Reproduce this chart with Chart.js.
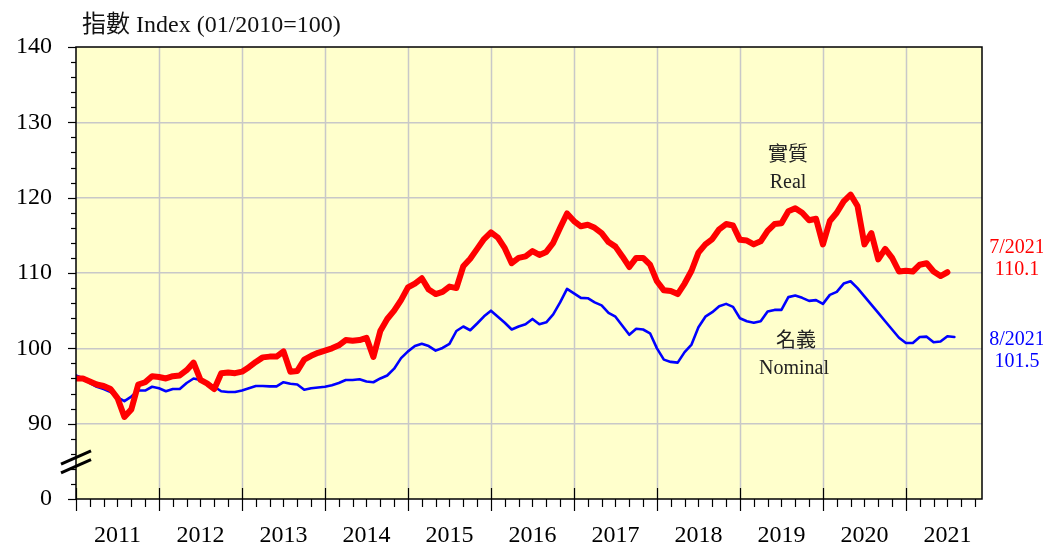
<!DOCTYPE html>
<html>
<head>
<meta charset="utf-8">
<title>Index chart</title>
<script src="https://cdn.jsdelivr.net/npm/chart.js@4.4.0/dist/chart.umd.min.js"></script>
<style>
  html, body { margin: 0; padding: 0; background: #ffffff; }
  #wrap { width: 1043px; height: 546px; position: relative; }
</style>
</head>
<body>
<div id="wrap"><canvas id="indexChart"></canvas></div>
<script>
// Datos (mensuales, desde 01/2011)
const years = ["2011", "2012", "2013", "2014", "2015", "2016", "2017", "2018", "2019", "2020", "2021"]

// 實質 Real, 01/2011 - 07/2021
const realIndex = [
  96.0, 96.0, 95.6, 95.2, 95.0, 94.6, 93.4, 90.9, 91.9, 95.2, 95.5, 96.3,
  96.2, 96.0, 96.3, 96.4, 97.1, 98.1, 95.8, 95.3, 94.6, 96.7, 96.8, 96.7,
  96.9, 97.5, 98.2, 98.8, 98.9, 98.9, 99.6, 96.9, 97.0, 98.5, 99.0, 99.4,
  99.7, 100.0, 100.4, 101.1, 101.0, 101.1, 101.4, 98.85, 102.3, 103.9, 105.0, 106.4,
  108.1, 108.6, 109.3, 107.8, 107.2, 107.5, 108.2, 108.0, 110.9, 111.9, 113.2, 114.5,
  115.4, 114.7, 113.3, 111.3, 112.0, 112.2, 112.9, 112.4, 112.8, 114.0, 116.0, 117.9,
  116.9, 116.2, 116.4, 116.0, 115.3, 114.1, 113.5, 112.2, 110.8, 112.0, 112.0, 111.1,
  108.9, 107.7, 107.6, 107.2, 108.6, 110.3, 112.7, 113.8, 114.5, 115.8, 116.5, 116.3,
  114.4, 114.3, 113.8, 114.2, 115.6, 116.5, 116.6, 118.2, 118.6, 118.0, 117.0, 117.2,
  113.8, 116.9, 118.0, 119.5, 120.4, 118.9, 113.8, 115.3, 111.8, 113.2, 112.0, 110.2,
  110.3, 110.2, 111.1, 111.3, 110.2, 109.6, 110.1
]

// 名義 Nominal, 01/2011 - 08/2021
const nominalIndex = [
  96.4, 96.05, 95.4, 94.9, 94.6, 94.2, 93.5, 93.0, 93.6, 94.4, 94.4, 94.9,
  94.7, 94.3, 94.6, 94.6, 95.4, 96.0, 95.8, 95.4, 94.9, 94.3, 94.2, 94.2,
  94.4, 94.7, 95.0, 95.0, 94.95, 94.95, 95.5, 95.3, 95.2, 94.5, 94.7, 94.8,
  94.9, 95.1, 95.4, 95.8, 95.8, 95.9, 95.6, 95.5, 96.0, 96.4, 97.3, 98.7,
  99.6, 100.3, 100.6, 100.3, 99.7, 100.05, 100.6, 102.3, 102.9, 102.4, 103.3, 104.25,
  105.0, 104.2, 103.4, 102.5, 102.9, 103.2, 103.9, 103.2, 103.45, 104.5, 106.1, 107.9,
  107.3, 106.7, 106.65, 106.1, 105.7, 104.7, 104.2, 103.0, 101.8, 102.6, 102.5, 102.0,
  100.0, 98.5, 98.2, 98.1, 99.5, 100.5, 102.8, 104.2, 104.8, 105.6, 105.9, 105.5,
  104.0, 103.6, 103.4, 103.6, 104.9, 105.1, 105.1, 106.8, 107.0, 106.7, 106.3, 106.4,
  105.9, 107.1, 107.5, 108.6, 108.9, 108.0, 106.9, 105.8, 104.7, 103.6, 102.5, 101.4,
  100.7, 100.7, 101.5, 101.55, 100.8, 100.9, 101.6, 101.5
]

// Eje Y cortado: el 80 se rotula "0"
const yTicks = [80, 90, 100, 110, 120, 130, 140]
const yTickLabels = ["0", "90", "100", "110", "120", "130", "140"]

const axisTitle = "指數 Index (01/2010=100)"
const realLabels = ["實質", "Real"]
const nominalLabels = ["名義", "Nominal"]
const realLast = ["7/2021", "110.1"]
const nominalLast = ["8/2021", "101.5"]

const FONT = "'Liberation Serif', 'Times New Roman', 'Noto Sans CJK TC', serif"
const MONTHS_SHOWN = 131

/**
 * Convierte una serie mensual en puntos {x: mes, y: valor}
 */
function toPoints(values) {
  return values.map((v, i) => ({ x: i, y: v }))
}

/**
 * Fondo, rejilla vertical, marco, marcas y textos
 */
const decorPlugin = {
  id: "decor",
  beforeDraw(chart) {
    const { ctx, chartArea: a } = chart
    ctx.save()
    ctx.fillStyle = "#FFFFCC"
    ctx.fillRect(a.left, a.top, a.right - a.left, a.bottom - a.top)
    ctx.restore()
  },
  beforeDatasetsDraw(chart) {
    const { ctx, chartArea: a } = chart
    const x = chart.scales.x
    ctx.save()
    ctx.strokeStyle = "#C8C8C8"
    ctx.lineWidth = 1.5
    for (let m = 12; m < MONTHS_SHOWN; m += 12) {
      const px = Math.round(x.getPixelForValue(m)) + 0.5
      ctx.beginPath()
      ctx.moveTo(px, a.top)
      ctx.lineTo(px, a.bottom)
      ctx.stroke()
    }
    ctx.restore()
  },
  afterDraw(chart) {
    const { ctx, chartArea: a } = chart
    const x = chart.scales.x
    const y = chart.scales.y
    ctx.save()

    // marco
    ctx.strokeStyle = "#000"
    ctx.lineWidth = 1.5
    ctx.strokeRect(a.left, a.top, a.right - a.left, a.bottom - a.top)

    // marcas del eje Y (cada 2 unidades)
    ctx.lineWidth = 1.2
    for (let v = 80; v <= 140; v += 2) {
      const py = Math.round(y.getPixelForValue(v)) + 0.5
      const len = v % 10 === 0 ? 8 : 5
      ctx.beginPath()
      ctx.moveTo(a.left - len, py)
      ctx.lineTo(a.left, py)
      ctx.stroke()
    }

    // marcas del eje X (cada 2 meses, años más largas)
    for (let m = 0; m <= MONTHS_SHOWN; m += 2) {
      const px = Math.round(x.getPixelForValue(m)) + 0.5
      ctx.beginPath()
      if (m % 12 === 0) {
        ctx.moveTo(px, a.bottom - 11)
        ctx.lineTo(px, a.bottom + 12)
      } else {
        ctx.moveTo(px, a.bottom)
        ctx.lineTo(px, a.bottom + 8)
      }
      ctx.stroke()
    }

    // corte del eje
    ctx.lineWidth = 3
    ;[85.5, 84.35].forEach((v) => {
      const cy = y.getPixelForValue(v)
      ctx.beginPath()
      ctx.moveTo(a.left - 15, cy + 6.6)
      ctx.lineTo(a.left + 15, cy - 6.6)
      ctx.stroke()
    })

    // título del eje
    ctx.fillStyle = "#111"
    ctx.font = "24px " + FONT
    ctx.textAlign = "left"
    ctx.textBaseline = "alphabetic"
    ctx.fillText(axisTitle, 82, 32)

    // rótulos de las series
    ctx.font = "20px " + FONT
    ctx.textAlign = "center"
    ctx.textBaseline = "middle"
    ctx.fillStyle = "#222"
    ctx.fillText(realLabels[0], 788, 156)
    ctx.fillText(realLabels[1], 788, 183)
    ctx.fillText(nominalLabels[0], 796, 342)
    ctx.fillText(nominalLabels[1], 794, 369)

    ctx.fillStyle = "#FF0000"
    ctx.fillText(realLast[0], 1017, 248)
    ctx.fillText(realLast[1], 1017, 270)
    ctx.fillStyle = "#0000FF"
    ctx.fillText(nominalLast[0], 1017, 340)
    ctx.fillText(nominalLast[1], 1017, 362)

    ctx.restore()
  },
}

function initializeChart() {
  const canvas = document.getElementById("indexChart")

  new Chart(canvas, {
    type: "line",
    data: {
      datasets: [
        {
          label: "實質 Real",
          data: toPoints(realIndex),
          borderColor: "#FF0000",
          borderWidth: 6,
          borderJoinStyle: "round",
          borderCapStyle: "round",
          pointRadius: 0,
          tension: 0,
        },
        {
          label: "名義 Nominal",
          data: toPoints(nominalIndex),
          borderColor: "#0000FF",
          borderWidth: 2.6,
          borderJoinStyle: "round",
          borderCapStyle: "round",
          pointRadius: 0,
          tension: 0,
        },
      ],
    },
    options: {
      responsive: false,
      animation: false,
      layout: { padding: { top: 47, right: 61, left: 0, bottom: 0 } },
      plugins: {
        legend: { display: false },
        tooltip: { enabled: false },
      },
      scales: {
        x: {
          type: "linear",
          min: 0,
          max: MONTHS_SHOWN,
          grid: { display: false, drawTicks: false },
          border: { display: false },
          afterBuildTicks: (scale) => {
            scale.ticks = years.map((yr, i) => ({ value: 6 + 12 * i }))
          },
          afterFit: (scale) => {
            scale.height = 47
          },
          ticks: {
            autoSkip: false,
            maxRotation: 0,
            padding: 22,
            color: "#000",
            font: { family: FONT, size: 24 },
            callback: (v) => years[Math.round((v - 6) / 12)],
          },
        },
        y: {
          min: 80,
          max: 140,
          grid: {
            drawTicks: false,
            color: (c) => (c.tick && (c.tick.value === 80 || c.tick.value === 140) ? "rgba(0,0,0,0)" : "#C8C8C8"),
            lineWidth: 1.5,
          },
          border: { display: false },
          afterBuildTicks: (scale) => {
            scale.ticks = yTicks.map((v) => ({ value: v }))
          },
          afterFit: (scale) => {
            scale.width = 76
          },
          ticks: {
            padding: 24,
            color: "#000",
            font: { family: FONT, size: 24 },
            callback: (v) => yTickLabels[yTicks.indexOf(v)],
          },
        },
      },
    },
    plugins: [decorPlugin],
  })
}

document.addEventListener("DOMContentLoaded", () => {
  canvasSize()
  initializeChart()
})

function canvasSize() {
  const canvas = document.getElementById("indexChart")
  canvas.width = 1043
  canvas.height = 546
  canvas.style.width = "1043px"
  canvas.style.height = "546px"
}
</script>
</body>
</html>
